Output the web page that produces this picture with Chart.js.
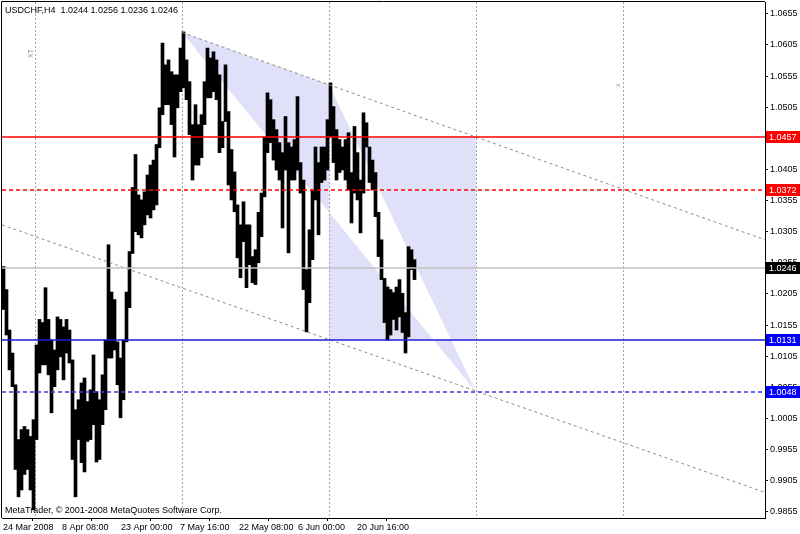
<!DOCTYPE html>
<html>
<head>
<meta charset="utf-8">
<script src="https://cdn.jsdelivr.net/npm/chart.js@4.4.0/dist/chart.umd.min.js"></script>
<style>
  html, body { margin: 0; padding: 0; background: #fff; }
</style>
</head>
<body>
<canvas id="c" width="800" height="534"></canvas>
<script>
// USDCHF H4 - every column holds 3 bars (high / low of the group)
const highs = [
  1.0249,1.0212,1.0147,1.0110,1.0059,0.9971,0.9987,0.9992,0.9987,0.9976,
  1.0003,1.0123,1.0164,1.0159,1.0215,1.0164,1.0131,1.0115,1.0168,1.0164,
  1.0152,1.0164,1.0147,1.0099,1.0019,1.0035,1.0062,1.0070,1.0032,1.0051,
  1.0107,1.0048,1.0035,1.0075,1.0131,1.0284,1.0208,1.0196,1.0128,1.0102,
  1.0131,1.0208,1.0273,1.0376,1.0429,1.0364,1.0356,1.0369,1.0396,1.0412,
  1.0420,1.0445,1.0504,1.0608,1.0573,1.0581,1.0562,1.0557,1.0557,1.0600,
  1.0626,1.0581,1.0546,1.0477,1.0509,1.0477,1.0493,1.0546,1.0600,1.0584,
  1.0594,1.0581,1.0557,1.0482,1.0573,1.0498,1.0437,1.0401,1.0348,1.0316,
  1.0353,1.0316,1.0316,1.0265,1.0276,1.0336,1.0367,1.0457,1.0528,1.0517,
  1.0485,1.0469,1.0448,1.0432,1.0490,1.0448,1.0441,1.0453,1.0522,1.0416,
  1.0388,1.0244,1.0308,1.0372,1.0441,1.0416,1.0441,1.0441,1.0485,1.0544,
  1.0506,1.0469,1.0453,1.0441,1.0453,1.0464,1.0400,1.0474,1.0432,1.0388,
  1.0496,1.0480,1.0441,1.0420,1.0400,1.0336,1.0292,1.0230,1.0216,1.0212,
  1.0207,1.0216,1.0228,1.0206,1.0175,1.0281,1.0276,1.0260
];
const lows = [
  1.0180,1.0139,1.0083,1.0056,0.9923,0.9879,0.9890,0.9915,0.9923,0.9890,
  0.9858,0.9971,1.0078,1.0091,1.0091,1.0075,1.0014,1.0056,1.0083,1.0104,
  1.0067,1.0110,1.0094,0.9939,0.9879,0.9971,0.9934,0.9919,0.9968,0.9971,
  0.9995,0.9935,0.9939,0.9995,1.0019,1.0102,1.0102,1.0115,1.0059,1.0006,
  1.0035,1.0128,1.0183,1.0270,1.0305,1.0300,1.0295,1.0316,1.0332,1.0327,
  1.0340,1.0348,1.0440,1.0493,1.0509,1.0509,1.0477,1.0425,1.0504,1.0530,
  1.0536,1.0517,1.0461,1.0388,1.0412,1.0412,1.0424,1.0477,1.0520,1.0520,
  1.0530,1.0517,1.0432,1.0440,1.0482,1.0380,1.0356,1.0337,1.0263,1.0231,
  1.0289,1.0215,1.0252,1.0223,1.0220,1.0255,1.0297,1.0361,1.0432,1.0448,
  1.0420,1.0404,1.0388,1.0311,1.0404,1.0271,1.0388,1.0388,1.0404,1.0367,
  1.0212,1.0144,1.0191,1.0260,1.0356,1.0300,1.0384,1.0388,1.0404,1.0457,
  1.0416,1.0388,1.0400,1.0404,1.0388,1.0372,1.0319,1.0367,1.0356,1.0303,
  1.0367,1.0441,1.0384,1.0372,1.0329,1.0265,1.0228,1.0159,1.0131,1.0139,
  1.0164,1.0147,1.0168,1.0143,1.0110,1.0136,1.0244,1.0228
];
const barsPerCol = 3;
const totalBars = 763;

const symbol = 'USDCHF,H4';
const lastBar = [1.0244, 1.0256, 1.0236, 1.0246]; // O H L C

const timeLabels = ['24 Mar 2008', '8 Apr 08:00', '23 Apr 00:00', '7 May 16:00', '22 May 08:00', '6 Jun 00:00', '20 Jun 16:00'];
const labelStep = 59;   // bars between time labels
const gridBars = [33, 180, 327, 474, 621];

const priceTicks = [1.0655, 1.0605, 1.0555, 1.0505, 1.0455, 1.0405, 1.0355, 1.0305, 1.0255,
                    1.0205, 1.0155, 1.0105, 1.0055, 1.0005, 0.9955, 0.9905, 0.9855];

// horizontal levels
const levels = [1.0457, 1.0372, 1.0246, 1.0131, 1.0048];
const levelStyle = [
  { color: '#ff0000', dash: [],     box: '#ff0000' },
  { color: '#ff0000', dash: [4, 3], box: '#ff0000' },
  { color: '#c0c0c0', dash: [],     box: '#000000' },
  { color: '#1c1cd8', dash: [],     box: '#0000ff' },
  { color: '#3a3ae0', dash: [4, 3], box: '#0000ff' }
];

// channel lines (bar, price)
const upperLine = [[180, 1.0625], [763, 1.0292]];
const lowerLine = [[0, 1.0316], [763, 0.9886]];

// filled objects
const triBars = [180, 327, 474];
const triPrices = [1.0625, 1.0541, 1.0048];
const rectBars = [327, 474];
const rectPrices = [1.0457, 1.0131];
const shadeColor = 'rgb(224,224,248)';

const FONT = 'Liberation Sans, Arial, sans-serif';

const barData = highs.map((h, i) => ({ x: i * barsPerCol + barsPerCol / 2, y: [lows[i], h] }));

const trendSets = [upperLine, lowerLine].map(ln => ({
  type: 'line',
  data: ln.map(p => ({ x: p[0], y: p[1] })),
  borderColor: '#8c8c8c',
  borderDash: [3, 3],
  borderWidth: 1,
  pointRadius: 0,
  order: 1
}));

function clipArea(ctx, a) {
  ctx.beginPath();
  ctx.rect(a.left, a.top, a.right - a.left, a.bottom - a.top);
  ctx.clip();
}

// no label overflow padding, the frame sits tight on the canvas
function noPad(s) {
  s.paddingTop = 0; s.paddingBottom = 0; s.paddingLeft = 0; s.paddingRight = 0;
}

const mtPlugin = {
  id: 'mt',
  beforeDraw(chart) {
    const { ctx, chartArea: a, scales: { x, y } } = chart;
    const off = document.createElement('canvas');
    off.width = chart.canvas.width; off.height = chart.canvas.height;
    const o = off.getContext('2d');
    o.fillStyle = shadeColor;
    o.beginPath();
    triBars.forEach((b, i) => {
      const px = x.getPixelForValue(b), py = y.getPixelForValue(triPrices[i]);
      if (i) o.lineTo(px, py); else o.moveTo(px, py);
    });
    o.closePath();
    o.fill();
    // overlapping objects cancel out like in the terminal
    o.globalCompositeOperation = 'xor';
    const rx1 = x.getPixelForValue(rectBars[0]), rx2 = x.getPixelForValue(rectBars[1]);
    const ry1 = y.getPixelForValue(rectPrices[0]), ry2 = y.getPixelForValue(rectPrices[1]);
    o.fillRect(rx1, ry1, rx2 - rx1, ry2 - ry1);
    ctx.save();
    clipArea(ctx, a);
    ctx.drawImage(off, 0, 0);
    ctx.restore();
  },
  beforeDatasetsDraw(chart) {
    // vertical period separators
    const { ctx, chartArea: a, scales: { x } } = chart;
    ctx.save();
    ctx.strokeStyle = '#a4a4ac';
    ctx.lineWidth = 1;
    ctx.setLineDash([2, 2]);
    gridBars.forEach(b => {
      const px = Math.round(x.getPixelForValue(b)) + 0.5;
      ctx.beginPath();
      ctx.moveTo(px, a.top);
      ctx.lineTo(px, a.bottom);
      ctx.stroke();
    });
    ctx.restore();
  },
  afterDatasetsDraw(chart) {
    // horizontal levels over the bars
    const { ctx, chartArea: a, scales: { y } } = chart;
    ctx.save();
    clipArea(ctx, a);
    ctx.lineWidth = 1.5;
    levels.forEach((lv, i) => {
      const py = Math.round(y.getPixelForValue(lv));
      ctx.strokeStyle = levelStyle[i].color;
      ctx.setLineDash(levelStyle[i].dash);
      ctx.beginPath();
      ctx.moveTo(a.left, py);
      ctx.lineTo(a.right, py);
      ctx.stroke();
    });
    ctx.restore();
  },
  afterDraw(chart) {
    const { ctx, chartArea: a, scales: { x, y } } = chart;
    ctx.save();
    // frame left / top
    ctx.strokeStyle = '#000';
    ctx.lineWidth = 1;
    ctx.beginPath();
    ctx.moveTo(a.left - 0.5, a.bottom);
    ctx.lineTo(a.left - 0.5, a.top - 0.5);
    ctx.lineTo(a.right, a.top - 0.5);
    ctx.stroke();

    ctx.font = '9px ' + FONT;
    ctx.fillStyle = '#000';
    ctx.textBaseline = 'alphabetic';
    ctx.textAlign = 'left';
    ctx.fillText(symbol + '  ' + lastBar.map(v => v.toFixed(4)).join(' '), a.left + 3, a.top + 11);
    ctx.fillText('MetaTrader, \u00A9 2001-2008 MetaQuotes Software Corp.', a.left + 3, a.bottom - 5);

    // object names
    ctx.fillStyle = '#909090';
    ctx.font = '7px ' + FONT;
    ctx.save();
    ctx.translate(x.getPixelForValue(gridBars[0]) - 2, 58);
    ctx.rotate(-Math.PI / 2);
    ctx.fillText('XT', 0, 0);
    ctx.restore();
    ctx.save();
    ctx.translate(x.getPixelForValue(gridBars[4]) - 3, 87);
    ctx.rotate(-Math.PI / 2);
    ctx.fillText('x', 0, 0);
    ctx.restore();

    // level price boxes on the axis
    ctx.font = '9px ' + FONT;
    ctx.textBaseline = 'middle';
    levels.forEach((lv, i) => {
      const py = Math.round(y.getPixelForValue(lv));
      ctx.fillStyle = levelStyle[i].box;
      ctx.fillRect(a.right + 1, py - 6, 35, 12);
      ctx.fillStyle = '#fff';
      ctx.fillText(lv.toFixed(4), a.right + 4, py + 0.5);
    });
    ctx.restore();
  }
};

new Chart(document.getElementById('c'), {
  type: 'bar',
  data: {
    datasets: [
      {
        type: 'bar',
        data: barData,
        backgroundColor: '#000',
        borderWidth: 0,
        barThickness: barsPerCol,
        order: 2
      },
      ...trendSets
    ]
  },
  options: {
    responsive: false,
    animation: false,
    layout: { padding: { left: 2, top: 2, right: 0, bottom: 0 } },
    plugins: { legend: { display: false }, tooltip: { enabled: false } },
    scales: {
      x: {
        type: 'linear',
        position: 'bottom',
        min: 0,
        max: totalBars,
        offset: false,
        afterBuildTicks: s => { s.ticks = timeLabels.map((t, i) => ({ value: 1 + i * labelStep })); },
        afterFit: s => { s.height = 16; noPad(s); },
        ticks: {
          callback: (v, i) => timeLabels[i],
          align: 'start',
          maxRotation: 0,
          autoSkip: false,
          padding: 1,
          color: '#000',
          font: { family: FONT, size: 9 }
        },
        grid: { drawOnChartArea: false, tickLength: 3, color: '#000' },
        border: { color: '#000', width: 1 }
      },
      y: {
        type: 'linear',
        position: 'right',
        min: 0.9845,
        max: 1.0674,
        afterBuildTicks: s => { s.ticks = priceTicks.map(v => ({ value: v })); },
        afterFit: s => { s.width = 35; noPad(s); },
        ticks: {
          callback: v => v.toFixed(4),
          padding: 2,
          color: '#000',
          font: { family: FONT, size: 9 }
        },
        grid: { drawOnChartArea: false, tickLength: 3, color: '#000' },
        border: { color: '#000', width: 1 }
      }
    }
  },
  plugins: [mtPlugin]
});
</script>
</body>
</html>
